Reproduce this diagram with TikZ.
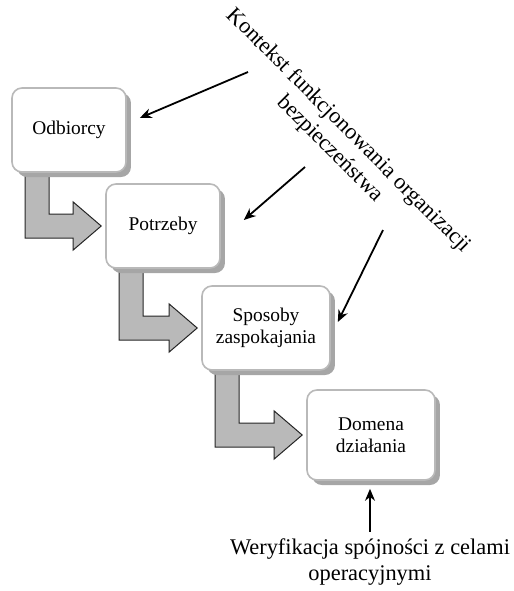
\documentclass[tikz,border=0pt]{standalone}
\usepackage{fontspec}
\setmainfont{Liberation Serif}
\usetikzlibrary{arrows.meta,calc,shadows,backgrounds}

\begin{document}
\begin{tikzpicture}[x=0.5pt, y=-0.5pt,
    box/.style={draw=gray!55, line width=0.8pt, rounded corners=5pt, fill=white, minimum height=42pt, align=center, font=\fontsize{9.7}{11.2}\selectfont, drop shadow={shadow xshift=2.5pt, shadow yshift=-2.5pt, fill=gray!70, opacity=1}},
    blockarrow/.style={fill=gray!55, draw=gray!30!black, line width=0.5pt, line join=miter},
    ptr/.style={-{Stealth[length=6pt,width=5pt]}, line width=0.9pt},
    note/.style={align=center, font=\fontsize{11.2}{13}\selectfont}
]
\useasboundingbox (0,0) rectangle (514,591);

\node[box, minimum width=57pt] (odb) at (69,130) {Odbiorcy};
\node[box, minimum width=57pt] (pot) at (163,226) {Potrzeby};
\node[box, minimum width=64pt] (spo) at (266,328) {Sposoby\\zaspokajania};
\node[box, minimum width=64pt, minimum height=45pt] (dom) at (371,435) {Domena\\działania};

\node[note, rotate=-45] (ctx) at (339,140) {Kontekst funkcjonowania organizacji\\bezpieczeństwa};
\node[note] (ver) at (370,562) {Weryfikacja spójności z celami\\operacyjnymi};

\coordinate (k1) at (248,72);
\coordinate (k2) at (305,167);
\coordinate (k3) at (383,230);

\begin{scope}[on background layer]
\foreach \a/\b in {odb/pot, pot/spo, spo/dom}
  \draw[blockarrow] ($(\a.south west)+(14,0)$) -- ($(\a.south west)+(38,0)$) |- ($(\b.west)+(-32,-12)$) -- ++(0,-12) -- ($(\b.west)+(-4,0)$) -- ($(\b.west)+(-32,24)$) -- ++(0,-12) -| ($(\a.south west)+(14,0)$) -- cycle;
\end{scope}

\draw[ptr] (k1) -- ($(odb.east)+(13,-12)$);
\draw[ptr] (k2) -- ($(pot.east)+(23,-6)$);
\draw[ptr] (k3) -- ($(spo.east)+(7,-6)$);
\draw[ptr, shorten >=4pt] (ver.north) -- (ver.north |- dom.south);
\end{tikzpicture}
\end{document}
